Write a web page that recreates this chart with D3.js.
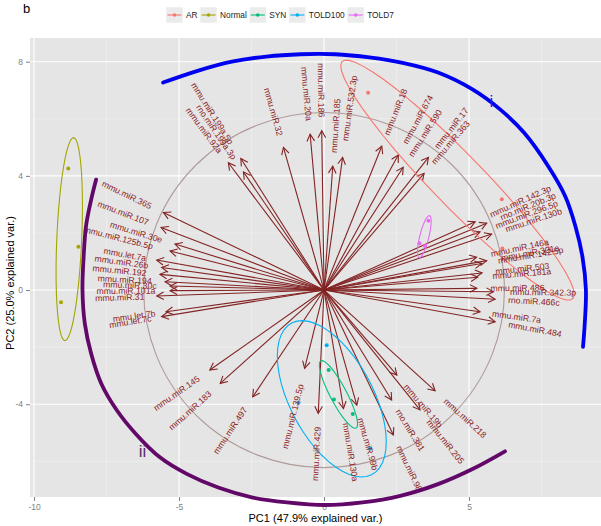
<!DOCTYPE html>
<html><head><meta charset="utf-8">
<script src="https://cdn.jsdelivr.net/npm/d3@7/dist/d3.min.js"></script>
<style>body{margin:0;background:#fff}svg{display:block;font-family:"Liberation Sans",Arial,Helvetica,sans-serif}</style>
</head><body><svg id="c" width="601" height="526"></svg>
<script>
// ---- data ----
const groups = ["AR","Normal","SYN","TOLD100","TOLD7"];
const groupColors = ["#F8766D","#A3A500","#00BF7D","#00B0F6","#E76BF3"];
const sampleGroup = ["AR","AR","AR","Normal","Normal","Normal","SYN","SYN","SYN","TOLD100","TOLD100","TOLD100","TOLD7","TOLD7","TOLD7"];
const samplePC1 = [1.52,6.13,6.15,-8.82,-8.47,-9.07,0.16,0.34,0.99,0.09,-0.88,1.59,3.60,3.29,3.48];
const samplePC2 = [6.91,3.18,1.46,4.26,1.52,-0.43,-2.80,-3.83,-4.34,-1.93,-3.95,-5.55,2.43,1.64,1.54];

const varNames = ["mmu.miR.365","mmu.miR.107","mmu.miR.30e","mmu.miR.125b.5p","mmu.let.7a","mmu.miR.26b","mmu.miR.192","mmu.miR.194","mmu.miR.30c","mmu.miR.101a","mmu.miR.31","mmu.let.7b","mmu.let.7c",
  "mmu.miR.145","mmu.miR.183","mmu.miR.497","mmu.miR.139.5p","mmu.miR.429","mmu.miR.130a","mmu.miR.99b","rno.miR.381","mmu.miR.98","mmu.miR.19b","mmu.miR.205","mmu.miR.218",
  "mmu.miR.7a","mmu.miR.484","mmu.miR.486","mmu.miR.342.3p","rno.miR.466c","mmu.miR.503","mmu.miR.181a","mmu.miR.146a","mmu.miR.301a","mmu.miR.142.5p",
  "mmu.miR.142.3p","rno.miR.20b.3p","mmu.miR.296.5p","mmu.miR.130b","mmu.miR.363","mmu.miR.17","mmu.miR.590","mmu.miR.674","mmu.miR.18",
  "mmu.miR.532.3p","mmu.miR.185","mmu.miR.186","mmu.miR.20a","mmu.miR.32","mmu.miR.199a.5p","rno.miR.199a.3p","mmu.miR.92a"];
const varPC1 = [-5.54,-5.62,-5.14,-5.31,-5.77,-5.60,-5.66,-5.48,-5.31,-5.31,-5.77,-5.45,-5.60,
  -3.94,-3.58,-2.46,-0.67,-0.20,0.67,1.13,2.33,2.39,2.51,3.31,3.83,
  5.38,5.90,5.27,5.84,5.90,5.45,5.30,5.26,5.61,5.44,
  5.21,5.61,5.38,5.78,3.45,3.60,2.73,2.56,1.99,
  0.64,0.30,-0.08,-0.48,-1.40,-2.87,-2.78,-3.30];
const varPC2 = [2.72,2.19,1.61,1.37,1.05,0.79,0.55,0.29,0.14,-0.02,-0.21,-0.76,-0.93,
  -2.80,-3.27,-3.74,-2.74,-4.32,-4.15,-4.03,-3.85,-5.08,-2.98,-4.20,-3.53,
  -0.76,-1.11,0.06,-0.06,-0.32,0.60,0.45,1.15,1.03,0.93,
  2.39,2.34,2.04,1.96,4.09,4.65,4.30,4.73,5.04,
  4.65,4.34,5.58,5.46,5.00,4.61,4.14,4.46];

const xTicks = [-10,-5,0,5];
const yTicks = [-4,0,4,8];
const xMinor = [-7.5,-2.5,2.5,7.5];
const yMinor = [-6,-2,2,6];
const circleRadius = 6.22;

// hand-drawn annotation arcs (data units)
const arcIx = [-5.55,-4.36,-3.18,-1.99,-0.81,0.38,1.56,2.75,3.93,5.12,6.07,6.90,7.73,8.32,8.67,8.91,9.03,8.99,8.93];
const arcIy = [7.27,7.68,8.00,8.18,8.26,8.26,8.15,7.95,7.62,7.03,6.33,5.51,4.34,3.28,2.23,1.17,0.00,-1.17,-1.99];
const arcIIx = [-7.86,-8.03,-8.21,-8.29,-8.33,-8.25,-8.03,-7.68,-7.14,-6.49,-5.66,-4.72,-3.65,-2.46,-1.28,0.02,1.33,2.63,3.93,5.12,6.24];
const arcIIy = [3.87,3.17,2.23,1.17,0.00,-1.17,-2.23,-3.28,-4.22,-5.04,-5.86,-6.45,-6.92,-7.27,-7.44,-7.53,-7.44,-7.21,-6.80,-6.27,-5.65];
const arcLabels = ["i","ii"];
const arcLabelX = [5.77,-6.26];
const arcLabelY = [6.62,-5.63];
const arcColors = ["#0000F0","#620868"];

// ---- layout ----
const P = {l:30, r:601, t:38, b:497};
const svg = d3.select("#c");
const x = d3.scaleLinear().domain([-10.14, 9.55]).range([P.l, P.r]);
const y = d3.scaleLinear().domain([-7.25, 8.83]).range([P.b, P.t]);
const color = d3.scaleOrdinal().domain(groups).range(groupColors);

// panel
svg.append("rect").attr("x",P.l).attr("y",P.t).attr("width",P.r-P.l).attr("height",P.b-P.t).attr("fill","#E5E5E5");
const grid = svg.append("g");
grid.selectAll(".xm").data(xMinor).join("line").attr("x1",d=>x(d)).attr("x2",d=>x(d)).attr("y1",P.t).attr("y2",P.b).attr("stroke","#F2F2F2").attr("stroke-width",0.6);
grid.selectAll(".ym").data(yMinor).join("line").attr("y1",d=>y(d)).attr("y2",d=>y(d)).attr("x1",P.l).attr("x2",P.r).attr("stroke","#F2F2F2").attr("stroke-width",0.6);
grid.selectAll(".xM").data(xTicks).join("line").attr("x1",d=>x(d)).attr("x2",d=>x(d)).attr("y1",P.t).attr("y2",P.b).attr("stroke","#fff").attr("stroke-width",1.1);
grid.selectAll(".yM").data(yTicks).join("line").attr("y1",d=>y(d)).attr("y2",d=>y(d)).attr("x1",P.l).attr("x2",P.r).attr("stroke","#fff").attr("stroke-width",1.1);

// axes
const xAxis = d3.axisBottom(x).tickValues(xTicks).tickSize(4).tickPadding(3).tickFormat(d=>String(d));
const yAxis = d3.axisLeft(y).tickValues(yTicks).tickSize(4).tickPadding(3).tickFormat(d=>String(d));
const gx = svg.append("g").attr("transform",`translate(0,${P.b})`).call(xAxis);
const gy = svg.append("g").attr("transform",`translate(${P.l},0)`).call(yAxis);
[gx,gy].forEach(g=>{
  g.select(".domain").remove();
  g.selectAll(".tick line").attr("stroke","#7F7F7F");
  g.selectAll(".tick text").attr("fill","#7F7F7F").style("font-size","8.5px").style("font-family","Liberation Sans, Arial, sans-serif");
});

// correlation circle
const rx = x(circleRadius)-x(0), ry = y(0)-y(circleRadius);
svg.append("ellipse").attr("cx",x(0)).attr("cy",y(0)).attr("rx",rx).attr("ry",ry)
  .attr("fill","none").attr("stroke","#B09A9A").attr("stroke-width",1.1);

// arrows
const defs = svg.append("defs");
defs.append("marker").attr("id","ah").attr("viewBox","-8 -5 10 10").attr("refX",0).attr("refY",0)
  .attr("markerWidth",10).attr("markerHeight",10).attr("markerUnits","userSpaceOnUse").attr("orient","auto")
  .append("path").attr("d","M-7,-3.8L0,0L-7,3.8").attr("fill","none").attr("stroke","#832424").attr("stroke-width",1.1);
const vars = varNames.map((n,i)=>({name:n, px:varPC1[i], py:varPC2[i]}));
svg.append("g").selectAll("line").data(vars).join("line")
  .attr("x1",x(0)).attr("y1",y(0)).attr("x2",d=>x(d.px)).attr("y2",d=>y(d.py))
  .attr("stroke","#832424").attr("stroke-width",1.1).attr("marker-end","url(#ah)");

// samples
const samples = sampleGroup.map((g,i)=>({g, px:samplePC1[i], py:samplePC2[i]}));
svg.append("g").selectAll("circle").data(samples).join("circle")
  .attr("cx",d=>x(d.px)).attr("cy",d=>y(d.py)).attr("r",2).attr("fill",d=>color(d.g));

// 68% normal ellipses per group (as in ggbiplot)
const ed = Math.sqrt(-2*Math.log(1-0.68));
const theta = d3.range(0,51).map(i=>-Math.PI + 2*Math.PI*i/50);
groups.forEach(g=>{
  const pts = samples.filter(s=>s.g===g);
  const n = pts.length;
  const mx = d3.mean(pts,p=>p.px), my = d3.mean(pts,p=>p.py);
  const sxx = d3.sum(pts,p=>(p.px-mx)**2)/(n-1);
  const syy = d3.sum(pts,p=>(p.py-my)**2)/(n-1);
  const sxy = d3.sum(pts,p=>(p.px-mx)*(p.py-my))/(n-1);
  const a = Math.sqrt(sxx), b = sxy/a, c = Math.sqrt(Math.max(syy-b*b,0));
  const path = theta.map(t=>[mx + ed*Math.cos(t)*a, my + ed*(Math.cos(t)*b + Math.sin(t)*c)]);
  svg.append("path").attr("d", d3.line().x(p=>x(p[0])).y(p=>y(p[1]))(path))
    .attr("fill","none").attr("stroke",color(g)).attr("stroke-width",1.1);
});

// variable labels
const lg = svg.append("g");
vars.forEach(d=>{
  const X = x(d.px), Y = y(d.py);
  const ang = Math.atan((y(0)-Y)/(X-x(0)))*180/Math.PI;
  const g = lg.append("g").attr("transform",`translate(${X},${Y}) rotate(${-ang})`);
  const t = g.append("text").text(d.name).attr("fill","#8B1C1C").style("font-size","8.7px").attr("dy","0.35em");
  const w = t.node().getComputedTextLength();
  if (d.px>0) t.attr("text-anchor","start").attr("x",0.25*w);
  else t.attr("text-anchor","end").attr("x",-0.25*w);
});

// annotation arcs
const arcLine = d3.line().x(p=>x(p[0])).y(p=>y(p[1])).curve(d3.curveCatmullRom);
svg.append("path").attr("d",arcLine(arcIx.map((v,i)=>[v,arcIy[i]]))).attr("fill","none").attr("stroke",arcColors[0]).attr("stroke-width",3.8).attr("stroke-linecap","round");
svg.append("path").attr("d",arcLine(arcIIx.map((v,i)=>[v,arcIIy[i]]))).attr("fill","none").attr("stroke",arcColors[1]).attr("stroke-width",3.8).attr("stroke-linecap","round");
arcLabels.forEach((l,i)=>{
  svg.append("text").text(l).attr("x",x(arcLabelX[i])).attr("y",y(arcLabelY[i])).attr("dy","0.35em")
    .attr("text-anchor","middle").attr("fill",i===0?"#2020E0":"#5A2A6A").style("font-size","17px");
});

// axis titles
svg.append("text").text("PC1 (47.9% explained var.)").attr("x",(P.l+P.r)/2).attr("y",522).attr("text-anchor","middle").style("font-size","11px").attr("fill","#000");
svg.append("text").text("PC2 (25.0% explained var.)").attr("transform","translate(14,283) rotate(-90)").attr("text-anchor","middle").style("font-size","11px").attr("fill","#000");

// panel tag
svg.append("text").text("b").attr("x",23).attr("y",13).style("font-size","13px").attr("fill","#000");

// legend
const leg = svg.append("g");
let lx = 166;
groups.forEach(g=>{
  const k = leg.append("g").attr("transform",`translate(${lx},7)`);
  k.append("rect").attr("width",17).attr("height",16).attr("fill","#EBEBEB").attr("stroke","#fff").attr("stroke-width",0.5);
  k.append("line").attr("x1",1.5).attr("x2",15.5).attr("y1",8).attr("y2",8).attr("stroke",color(g)).attr("stroke-width",1.1);
  k.append("circle").attr("cx",8.5).attr("cy",8).attr("r",1.8).attr("fill",color(g));
  const t = leg.append("text").text(g).attr("x",lx+20).attr("y",18.3).style("font-size","8.3px").attr("fill","#222");
  lx += 20 + t.node().getComputedTextLength() + 2.5;
});
</script></body></html>
